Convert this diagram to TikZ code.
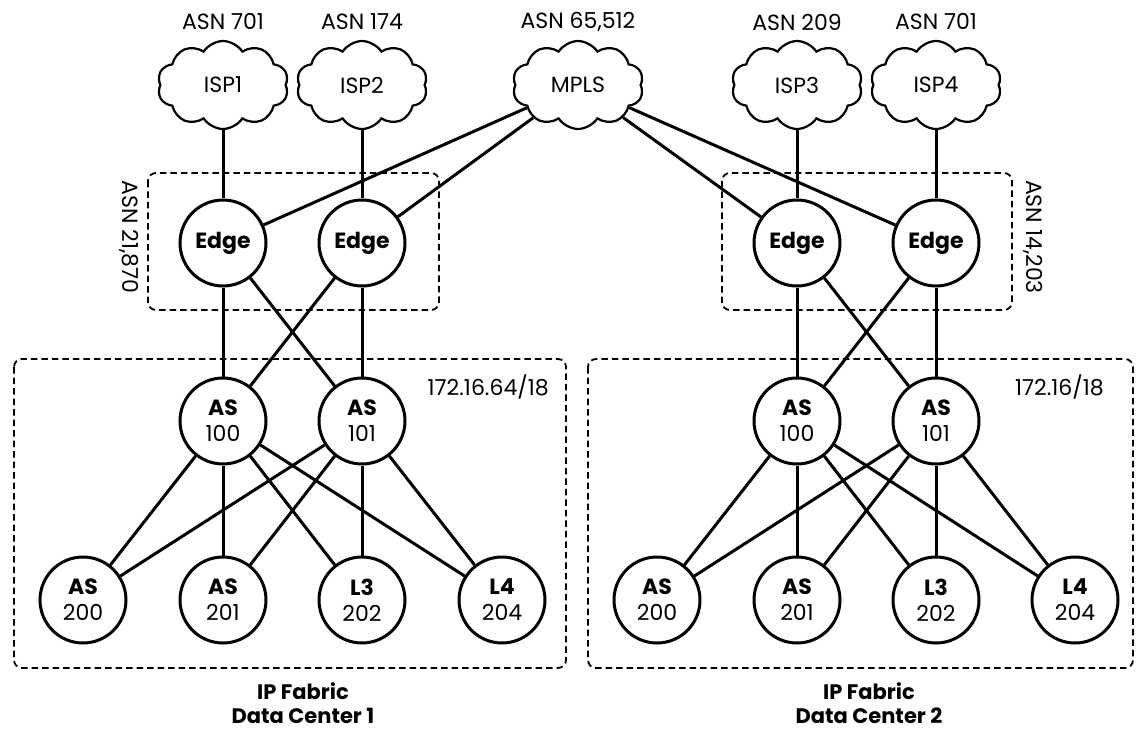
\documentclass[tikz,border=0pt]{standalone}
\usepackage{fontspec}
\setmainfont{Poppins}
\usetikzlibrary{shapes.symbols}
\begin{document}
\begin{tikzpicture}[x=1pt,y=-1pt,
  every node/.style={font=\fontsize{22}{26}\selectfont},
  cloudnode/.style={cloud, draw, line width=2.2pt, cloud puffs=10, cloud puff arc=115,
    aspect=1.5, minimum width=131pt, minimum height=88pt, inner sep=0pt},
  asnlabel/.style={inner sep=0pt},
  router/.style={circle, draw, line width=3pt, minimum size=86pt, inner sep=0pt,
    align=center, font=\fontsize{22}{26}\selectfont},
  link/.style={line width=3pt},
  zone/.style={draw, line width=1.8pt, dash pattern=on 6.5pt off 4pt, rounded corners=8pt},
  title/.style={anchor=base, inner sep=0pt, font=\fontsize{21}{24}\selectfont\bfseries}]
\useasboundingbox (0,0) rectangle (1136,733);

% autonomous system zones
\draw[zone] (148,173) rectangle (439,310);
\draw[zone] (722,173) rectangle (1012,310);
\draw[zone] (14,359) rectangle (566,668);
\draw[zone] (588,359) rectangle (1133,668);

% upstream clouds
\node[cloudnode] (isp1) at (223,85) {ISP1};
\node[cloudnode] (isp2) at (362,85) {ISP2};
\node[cloudnode] (mpls) at (578,85) {MPLS};
\node[cloudnode] (isp3) at (797,85) {ISP3};
\node[cloudnode] (isp4) at (936,85) {ISP4};
\node[asnlabel] (l1) at (223,22) {ASN 701};
\node[asnlabel] (l2) at (362,22) {ASN 174};
\node[asnlabel] (l3) at (578,22) {ASN 65,512};
\node[asnlabel] (l4) at (797,22) {ASN 209};
\node[asnlabel] (l5) at (936,22) {ASN 701};

% edge routers
\node[router] (e1) at (223,243) {\bfseries Edge};
\node[router] (e2) at (362,243) {\bfseries Edge};
\node[router] (e3) at (797,243) {\bfseries Edge};
\node[router] (e4) at (936,243) {\bfseries Edge};
\node[asnlabel, rotate=-90] (z1) at (129,237) {ASN 21,870};
\node[asnlabel, rotate=-90] (z2) at (1033,237) {ASN 14,203};

% data center 1
\node[router] (a100) at (223,421) {\textbf{AS}\\100};
\node[router] (a101) at (362,421) {\textbf{AS}\\101};
\node[router] (a200) at (83,600) {\textbf{AS}\\200};
\node[router] (a201) at (223,600) {\textbf{AS}\\201};
\node[router] (a202) at (362,600) {\textbf{L3}\\202};
\node[router] (a204) at (502,600) {\textbf{L4}\\204};
\node[anchor=east, inner sep=0pt] (p1) at (549,387) {172.16.64/18};
\node[title] (t1a) at (303,699) {IP Fabric};
\node[title] (t1b) at (303,723) {Data Center 1};

% data center 2
\node[router] (b100) at (797,421) {\textbf{AS}\\100};
\node[router] (b101) at (936,421) {\textbf{AS}\\101};
\node[router] (b200) at (657,600) {\textbf{AS}\\200};
\node[router] (b201) at (797,600) {\textbf{AS}\\201};
\node[router] (b202) at (936,600) {\textbf{L3}\\202};
\node[router] (b204) at (1075,600) {\textbf{L4}\\204};
\node[anchor=east, inner sep=0pt] (p2) at (1104,387) {172.16/18};
\node[title] (t2a) at (869,699) {IP Fabric};
\node[title] (t2b) at (869,723) {Data Center 2};

% upstream links
\draw[link] (isp1) -- (e1);
\draw[link] (isp2) -- (e2);
\draw[link] (isp3) -- (e3);
\draw[link] (isp4) -- (e4);
\draw[link] (mpls) -- (e1);
\draw[link] (mpls) -- (e2);
\draw[link] (mpls) -- (e3);
\draw[link] (mpls) -- (e4);

% edge to spine
\foreach \e in {e1,e2} \foreach \s in {a100,a101} \draw[link] (\e) -- (\s);
\foreach \e in {e3,e4} \foreach \s in {b100,b101} \draw[link] (\e) -- (\s);

% spine to leaf
\foreach \s in {a100,a101} \foreach \l in {a200,a201,a202,a204} \draw[link] (\s) -- (\l);
\foreach \s in {b100,b101} \foreach \l in {b200,b201,b202,b204} \draw[link] (\s) -- (\l);
\end{tikzpicture}
\end{document}
